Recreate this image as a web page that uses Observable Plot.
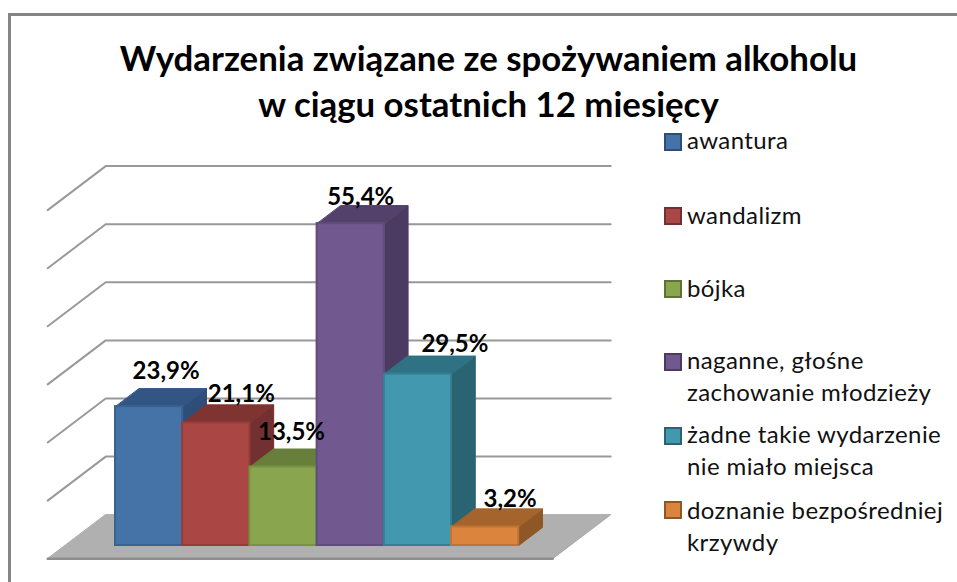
<!DOCTYPE html>
<html lang="pl">
<head>
<meta charset="utf-8">
<title>Wydarzenia związane ze spożywaniem alkoholu</title>
<script src="https://cdn.jsdelivr.net/npm/d3@7"></script>
<script src="https://cdn.jsdelivr.net/npm/@observablehq/plot@0.6"></script>
<style>
  html, body { margin: 0; padding: 0; background: #fff; }
  #chart { position: relative; width: 957px; height: 582px; overflow: hidden; font-family: Lato, sans-serif; color: #000; }
  #frame { position: absolute; left: 8px; top: 13px; width: 960px; height: 600px; border-left: 3px solid #858585; border-top: 3px solid #858585; }
  #title { position: absolute; left: 0; top: 35px; width: 977px; margin: 0; text-align: center; font-size: 34.8px; line-height: 46px; font-weight: 700; }
  #plot { position: absolute; left: 0; top: 0; }
  #plot svg { background: transparent; display: block; }
  .key { position: absolute; left: 687px; font-size: 24px; letter-spacing: 0.4px; line-height: 32px; white-space: pre; color: #111; }
  .swatch { position: absolute; left: 664px; width: 14px; height: 14px; border: 2px solid; }
</style>
</head>
<body>
<div id="chart">
  <div id="frame"></div>
  <div id="plot"></div>
  <h1 id="title"></h1>
  <div id="legend"></div>
</div>
<script>
const titleLines = ["Wydarzenia związane ze spożywaniem alkoholu", "w ciągu ostatnich 12 miesięcy"];
const categories = ["awantura", "wandalizm", "bójka", "naganne, głośne\nzachowanie młodzieży", "żadne takie wydarzenie\nnie miało miejsca", "doznanie bezpośredniej\nkrzywdy"];
const values = [23.9, 21.1, 13.5, 55.4, 29.5, 3.2];
const gridValues = [10, 20, 30, 40, 50, 60];

const frontColors = ["#4572A7", "#AA4643", "#89A54E", "#71588F", "#4198AF", "#DB843D"];
const topColors   = ["#325583", "#7F3431", "#687E3B", "#54416B", "#2F7283", "#A6642D"];
const sideColors  = ["#2D4E78", "#723030", "#5E7235", "#4C3B61", "#2A6473", "#8F5726"];
const edgeColors  = ["#3A6291", "#963D3A", "#789143", "#624C7E", "#357F93", "#BF7233"];

// Label placement, in pixels, relative to each bar's top front centre.
const labelShift = [[17, -35], [25, -29], [8, -35], [10, -26], [37, -30], [25, -28]];
// Legend layout.
const legendTops = [124, 199, 272, 344, 418, 494];
const swatchTops = [133, 207, 280, 353, 427, 501];

// Oblique projection of the chart's floor: depth runs from 0 (front) to 1 (back).
const pxPerCat = 67.2, pxPerUnit = 5.81;
const depthX = 58 / pxPerCat, depthY = 44 / pxPerUnit;
const barFront = 0.3, barBack = 0.71, floorLeft = -0.75, floorRight = 6.765;
const project = (i, v, d) => ({x: i + (d - barFront) * depthX, y: v + (d - barFront) * depthY});

const poly = (pts) => pts.map(([i, v, d]) => project(i, v, d));
const floor = poly([[floorLeft, 0, 0], [floorRight, 0, 0], [floorRight, 0, 1], [floorLeft, 0, 1]]);
const floorEdge = poly([[floorLeft, 0, 0], [floorRight, 0, 0]]);
const grid = gridValues.flatMap((v) =>
  poly([[floorLeft, v, 0], [floorLeft, v, 1], [floorRight, v, 1]]).map((p) => ({...p, v})));

const face = (pts, fill, stroke) => Plot.line(poly(pts), {
  x: "x", y: "y", curve: "linear-closed", fill, stroke, strokeWidth: 1
});

const barMarks = values.flatMap((v, i) => [
  face([[i + 1, 0, barFront], [i + 1, 0, barBack], [i + 1, v, barBack], [i + 1, v, barFront]], sideColors[i], sideColors[i]),
  face([[i, v, barFront], [i + 1, v, barFront], [i + 1, v, barBack], [i, v, barBack]], topColors[i], topColors[i]),
  Plot.rect([{i, v}], {
    x1: (d) => d.i, x2: (d) => d.i + 1, y1: 0, y2: (d) => d.v,
    fill: frontColors[i], stroke: edgeColors[i], strokeWidth: 2
  })
]);

const labelMarks = values.map((v, i) => Plot.text([{i, v}], {
  x: (d) => d.i + 0.5, y: (d) => d.v,
  text: (d) => d.v.toFixed(1).replace(".", ",") + "%",
  dx: labelShift[i][0], dy: labelShift[i][1],
  fontFamily: "Lato, sans-serif", fontWeight: 700, fontSize: 24, fill: "#000"
}));

const plot = Plot.plot({
  width: 957, height: 582,
  marginLeft: 115, marginRight: 957 - 115 - 6 * pxPerCat,
  marginBottom: 37, marginTop: 582 - 37 - 60 * pxPerUnit,
  x: {domain: [0, 6], axis: null},
  y: {domain: [0, 60], axis: null},
  marks: [
    Plot.line(floor, {x: "x", y: "y", curve: "linear-closed", fill: "#B0B0B0", stroke: "#A8A8A8", strokeWidth: 1}),
    Plot.line(floorEdge, {x: "x", y: "y", stroke: "#8E8E8E", strokeWidth: 2.5}),
    Plot.line(grid, {x: "x", y: "y", z: "v", stroke: "#999999", strokeWidth: 2}),
    ...barMarks,
    ...labelMarks
  ]
});
document.getElementById("plot").append(plot);

document.getElementById("title").innerHTML = titleLines.join("<br>");
const legend = document.getElementById("legend");
categories.forEach((c, i) => {
  const s = document.createElement("div");
  s.className = "swatch";
  s.style.top = swatchTops[i] + "px";
  s.style.background = frontColors[i];
  s.style.borderColor = sideColors[i];
  legend.append(s);
  const t = document.createElement("div");
  t.className = "key";
  t.style.top = legendTops[i] + "px";
  t.textContent = c;
  legend.append(t);
});
</script>
</body>
</html>
